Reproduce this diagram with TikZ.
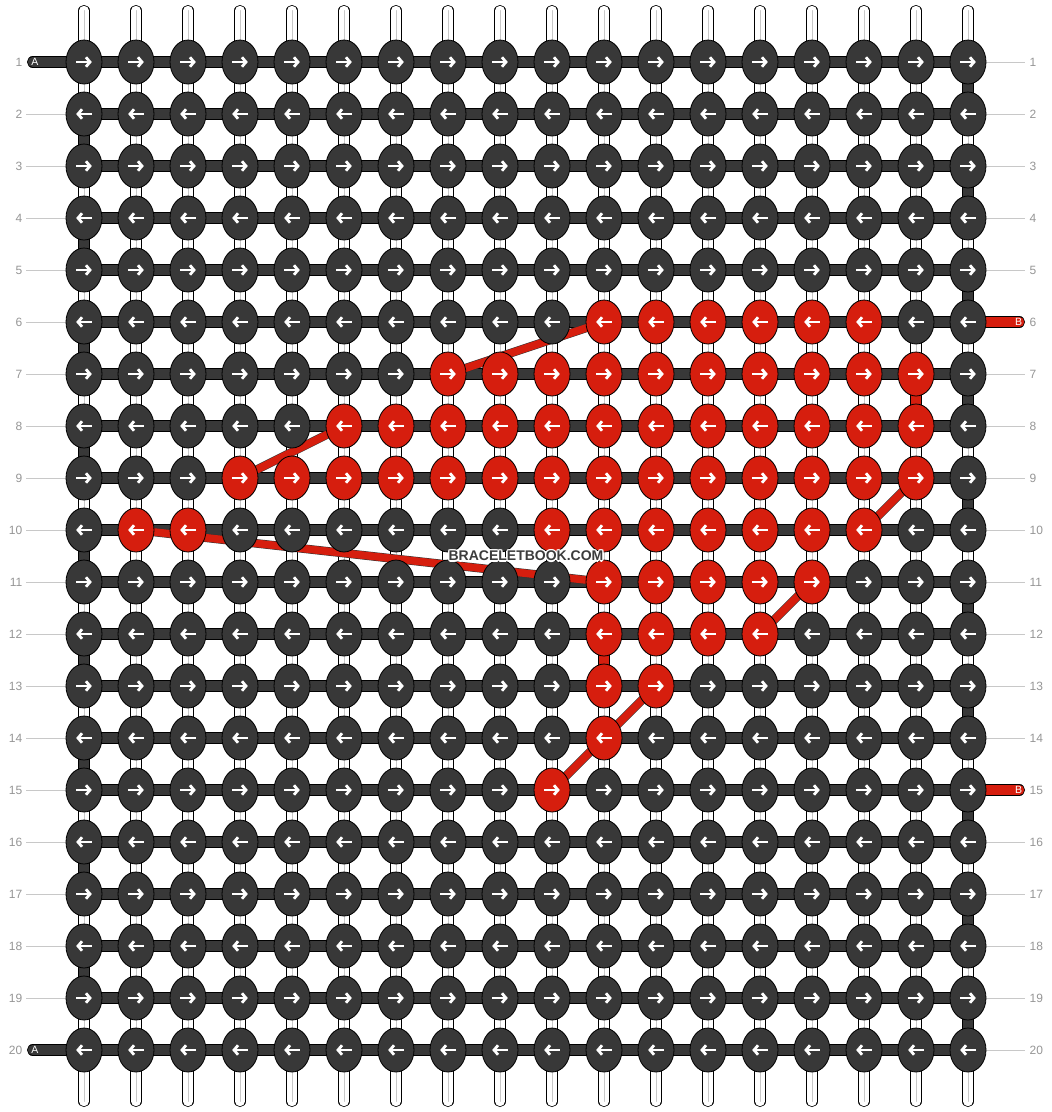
\documentclass[tikz,border=0pt]{standalone}
\usepackage{fontspec}
\setmainfont{Liberation Sans}
\usetikzlibrary{arrows.meta,shapes.geometric}
\pgfdeclarelayer{paper}
\pgfdeclarelayer{strands}
\pgfdeclarelayer{redpath}
\pgfdeclarelayer{front}
\pgfsetlayers{paper,strands,redpath,main,front}
\definecolor{knotdark}{RGB}{56,56,56}
\definecolor{knotred}{RGB}{214,30,14}
\definecolor{numgrey}{RGB}{150,150,150}
\definecolor{linegrey}{RGB}{200,200,200}
\definecolor{wmgrey}{RGB}{60,60,60}
\newcommand\wmword{BRACELETBOOK.COM}
\newcommand\wmcopy[2]{\makebox[0pt][l]{\kern#1\raisebox{#2}{\textcolor{white}{\wmword}}}}
\tikzset{
  knotbox/.style={ellipse, draw=black, line width=0.8pt, minimum width=36pt, minimum height=44pt, inner sep=0pt},
  knotarrow/.style={draw=white, line width=2.8pt, -{Straight Barb[length=4pt,width=9.5pt]}},
  strand/.style={draw=black, line width=0.8pt, double distance=9.6pt},
  darkstrand/.style={strand, double=knotdark},
  redstrand/.style={strand, double=knotred},
  whitestrand/.style={strand, double=white, line cap=round},
  centreline/.style={draw=linegrey, line width=1pt, line cap=round},
  redline/.style={draw=black!80, line width=0.5pt, double=knotred, double distance=7.6pt},
  guide/.style={draw=linegrey, line width=0.8pt},
  rownum/.style={text=numgrey, font=\fontsize{12}{12}\selectfont, inner sep=0pt},
  endlabel/.style={text=white, font=\fontsize{10.5}{10.5}\selectfont, inner sep=0pt},
  wmtext/.style={font=\fontsize{14}{14}\selectfont\bfseries, inner sep=0pt}
}
\begin{document}
\begin{tikzpicture}[x=1pt,y=-1pt]
\useasboundingbox (0,0) rectangle (1052,1112);
\begin{pgfonlayer}{paper}
\fill[white] (0,0) rectangle (1052,1112);
\end{pgfonlayer}
% knots
\foreach \r in {1,...,20}{
  \foreach \c in {1,...,18}{
    \pgfmathsetmacro\px{84+52*(\c-1)}
    \pgfmathsetmacro\py{62+52*(\r-1)}
    \pgfmathtruncatemacro\isred{(\r==6)*(\c>=11)*(\c<=16) + (\r==7)*(\c>=8)*(\c<=17) + (\r==8)*(\c>=6)*(\c<=17) + (\r==9)*(\c>=4)*(\c<=17) + (\r==10)*(\c>=2)*(\c<=3) + (\r==10)*(\c>=10)*(\c<=16) + (\r==11)*(\c>=11)*(\c<=15) + (\r==12)*(\c>=11)*(\c<=14) + (\r==13)*(\c>=11)*(\c<=12) + (\r==14)*(\c==11) + (\r==15)*(\c==10)}
    \ifnum\isred>0 \def\kc{knotred}\else\def\kc{knotdark}\fi
    \node[knotbox, fill=\kc] (k-\r-\c) at (\px,\py) {};
    \pgfmathsetmacro\axa{ifthenelse(mod(\r,2)==1,-7.8,7.8)}
    \pgfmathsetmacro\axb{ifthenelse(mod(\r,2)==1,7.8,-7.8)}
    \draw[knotarrow] ([xshift=\axa pt]k-\r-\c.center) -- ([xshift=\axb pt]k-\r-\c.center);
  }
}
\begin{pgfonlayer}{strands}
  % vertical base strands
  \foreach \c in {1,...,18}{
    \pgfmathsetmacro\px{84+52*(\c-1)}
    \coordinate (top-\c) at (\px,10.6);
    \coordinate (bot-\c) at (\px,1101.4);
    \draw[whitestrand] (top-\c) -- (bot-\c);
    \draw[centreline] (top-\c) -- (bot-\c);
  }
  % row strands
  \foreach \r in {1,...,20}{
    \draw[darkstrand] (k-\r-1.center) -- (k-\r-18.center);
  }
  % edge turns
  \foreach \r in {2,4,...,18}{
    \pgfmathtruncatemacro\rn{\r+1}
    \draw[darkstrand] (k-\r-1.center) -- (k-\rn-1.center);
  }
  \foreach \r in {1,3,...,19}{
    \pgfmathtruncatemacro\rn{\r+1}
    \draw[darkstrand] (k-\r-18.center) -- (k-\rn-18.center);
  }
  % red vertical passes
  \draw[redstrand] (k-7-17.center) -- (k-8-17.center);
  \draw[redstrand] (k-12-11.center) -- (k-13-11.center);
  % thread ends
  \coordinate (a-1) at (32.6,62);
  \coordinate (a-20) at (32.6,1050);
  \coordinate (b-6) at (1019.4,322);
  \coordinate (b-15) at (1019.4,790);
  \draw[darkstrand, line cap=round] (a-1) -- (k-1-1.center);
  \draw[darkstrand, line cap=round] (a-20) -- (k-20-1.center);
  \draw[redstrand, line cap=round] (k-6-18.center) -- (b-6);
  \draw[redstrand, line cap=round] (k-15-18.center) -- (b-15);
  % guide lines
  \foreach \r in {2,...,19}{
    \pgfmathsetmacro\py{62+52*(\r-1)}
    \coordinate (gl-\r) at (26,\py);
    \draw[guide] (gl-\r) -- (k-\r-1.west);
  }
  \foreach \r in {1,2,3,4,5,7,8,9,10,11,12,13,14,16,17,18,19,20}{
    \pgfmathsetmacro\py{62+52*(\r-1)}
    \coordinate (gr-\r) at (1025,\py);
    \draw[guide] (k-\r-18.east) -- (gr-\r);
  }
\end{pgfonlayer}
\begin{pgfonlayer}{redpath}
  \draw[redline] (k-6-11.center) -- (k-7-8.center);
  \draw[redline] (k-8-6.center) -- (k-9-4.center);
  \draw[redline] (k-9-17.center) -- (k-10-16.center);
  \draw[redline] (k-10-2.center) -- (k-11-11.center);
  \draw[redline] (k-11-15.center) -- (k-12-14.center);
  \draw[redline] (k-13-12.center) -- (k-14-11.center);
  \draw[redline] (k-14-11.center) -- (k-15-10.center);
\end{pgfonlayer}
\begin{pgfonlayer}{front}
  % row numbers
  \foreach \r in {1,...,20}{
    \pgfmathsetmacro\py{62+52*(\r-1)}
    \node[rownum, anchor=east] (nl-\r) at (22.5,\py) {\r};
    \node[rownum, anchor=west] (nr-\r) at (1029.5,\py) {\r};
  }
  % end labels
  \node[endlabel] (la-1) at (35,62) {A};
  \node[endlabel] (la-20) at (35,1050) {A};
  \node[endlabel] (lb-6) at (1018.5,322) {B};
  \node[endlabel] (lb-15) at (1018.5,790) {B};
  % watermark with white halo
  \node[wmtext, text=wmgrey] (wm) at (526,556) {\wmcopy{1.2pt}{0pt}\wmcopy{-1.2pt}{0pt}\wmcopy{0pt}{1.2pt}\wmcopy{0pt}{-1.2pt}\wmcopy{0.9pt}{0.9pt}\wmcopy{-0.9pt}{0.9pt}\wmcopy{0.9pt}{-0.9pt}\wmcopy{-0.9pt}{-0.9pt}\wmword};
\end{pgfonlayer}
\end{tikzpicture}
\end{document}
